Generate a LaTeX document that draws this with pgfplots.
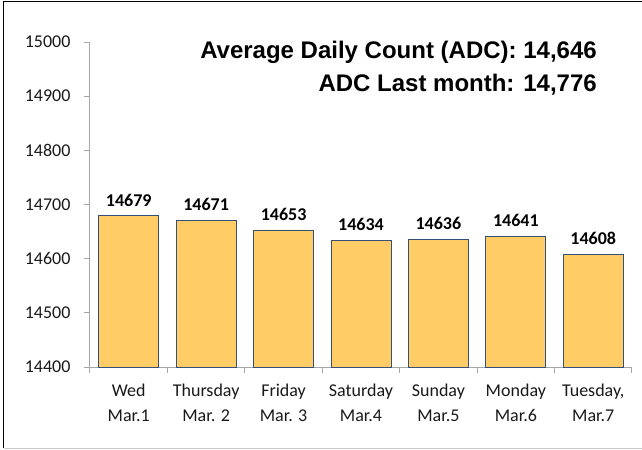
\documentclass[border=0pt]{standalone}
\usepackage{fontspec}
\setmainfont{Carlito}
\newfontfamily\arial{Liberation Sans}
\usepackage{pgfplots}
\pgfplotsset{compat=1.18}
\definecolor{barfill}{HTML}{FFCC66}
\definecolor{barline}{HTML}{34507A}
\definecolor{axgray}{HTML}{A6A6A6}
\begin{document}
\begin{tikzpicture}
\useasboundingbox (-90bp,-83bp) rectangle (552bp,367bp);
\draw[black, line width=1bp] (-86bp,-81bp) -- (-86bp,365bp) -- (552bp,365bp);
\draw[axgray!60, line width=1bp] (-86bp,-81bp) -- (552bp,-81bp);
\begin{axis}[
  at={(0,0)}, anchor=south west,
  scale only axis, width=542bp, height=325bp,
  font=\fontsize{18bp}{25bp}\selectfont,
  /pgf/number format/assume math mode=true,
  xmin=-0.5, xmax=6.5, ymin=14400, ymax=15000,
  ybar, bar width=60bp,
  axis x line=bottom, axis y line=left,
  axis line style={axgray, line width=1bp, -},
  tick align=outside,
  major tick length=6bp, minor tick length=6bp,
  xtick={0,...,6},
  xticklabels={{Wed\\Mar.1},{Thursday\\Mar. 2},{Friday\\Mar. 3},{Saturday\\Mar.4},{Sunday\\Mar.5},{Monday\\Mar.6},{Tuesday,\\Mar.7}},
  xticklabel style={align=center, text=black!90, yshift=-7bp},
  major x tick style={draw=none},
  minor xtick={-0.5,0.5,...,6.5},
  minor tick style={axgray, line width=1bp},
  scaled y ticks=false,
  ytick={14400,14500,...,15000},
  major y tick style={axgray, line width=1bp},
  yticklabel style={/pgf/number format/fixed, /pgf/number format/set thousands separator={}, text=black!90, xshift=-10bp},
  nodes near coords,
  nodes near coords style={font=\fontsize{18bp}{20bp}\selectfont\bfseries, /pgf/number format/set thousands separator={}, anchor=south, yshift=6bp, text=black},
  clip=false,
]
\addplot[fill=barfill, draw=barline, line width=0.8bp] coordinates {
(0,14679) (1,14671) (2,14653) (3,14634) (4,14636) (5,14641) (6,14608)};
\end{axis}
\node[anchor=base east, font=\arial\bfseries\fontsize{24bp}{30bp}\selectfont, inner sep=0pt] at (507bp,308bp) {Average Daily Count (ADC): 14,646};
\node[anchor=base east, font=\arial\bfseries\fontsize{24bp}{30bp}\selectfont, inner sep=0pt] at (507bp,275bp) {ADC Last month: 14,776};
\end{tikzpicture}
\end{document}
